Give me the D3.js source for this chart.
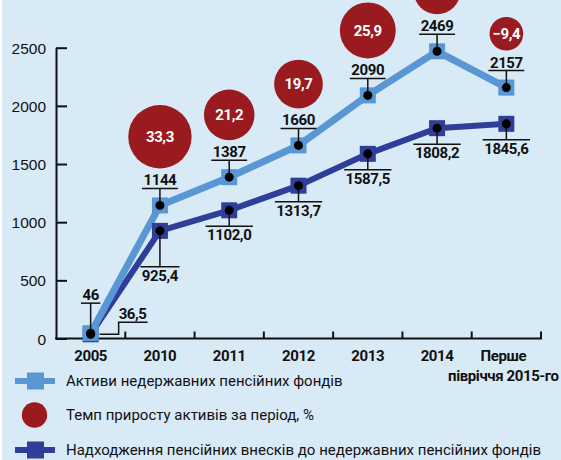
<!DOCTYPE html>
<html>
<head>
<meta charset="utf-8">
<script src="https://cdnjs.cloudflare.com/ajax/libs/d3/7.8.5/d3.min.js"></script>
<style type='text/css'>
body {
  margin: 0;
  background: #fff;
}
svg {
  display: block;
  font-family: Roboto, "Open Sans", sans-serif;
}
.axis text {
  font-size: 15.5px;
  fill: #111;
}
.axis line, .axis path {
  stroke: #111;
  stroke-width: 2;
}
text.year {
  font-size: 15px;
  font-weight: bold;
  fill: #111;
  letter-spacing: -0.4px;
}
text.val {
  font-size: 15px;
  font-weight: bold;
  fill: #111;
  letter-spacing: -0.4px;
}
line.lead, path.lead {
  stroke: #111;
  stroke-width: 1.5;
  fill: none;
}
text.pct {
  font-size: 15px;
  font-weight: bold;
  fill: #fff;
  letter-spacing: -0.4px;
}
text.leg {
  font-size: 15px;
  fill: #111;
}
</style>
</head>
<body>
<div id="chart"></div>
<script type='text/javascript'>
// data
var periods = ["2005", "2010", "2011", "2012", "2013", "2014", "Перше|півріччя 2015-го"];
var assets = [46, 1144, 1387, 1660, 2090, 2469, 2157];
var contributions = [36.5, 925.4, 1102.0, 1313.7, 1587.5, 1808.2, 1845.6];
var growth = [null, 33.3, 21.2, 19.7, 25.9, 18.1, -9.4];
var yTicks = [0, 500, 1000, 1500, 2000, 2500];
var legendLabels = [
  "Активи недержавних пенсійних фондів",
  "Темп приросту активів за період, %",
  "Надходження пенсійних внесків до недержавних пенсійних фондів"
];

var width = 561, height = 460;
var cLight = "#5897d3", cDark = "#2f3e99", cRed = "#9a1b1f", cBg = "#d9eaf7";

var svg = d3.select("#chart").append("svg")
    .attr("width", width)
    .attr("height", height);

svg.append("rect")
    .attr("x", 2).attr("y", 0)
    .attr("width", width - 2).attr("height", height)
    .attr("fill", cBg);

var x = d3.scaleBand().domain(periods).range([56, 541]);
var y = d3.scaleLinear().domain([0, 2500]).range([338.5, 47.7]);
var r = d3.scaleSqrt().domain([0, 33.3]).range([0, 31.7]);
var cx = function(i) { return x(periods[i]) + x.bandwidth() / 2; };
var fmt1 = function(v) { return d3.format(".1f")(v).replace(".", ","); };

// y axis, ticks pointing into the plot
svg.append("g")
    .attr("class", "axis")
    .attr("transform", "translate(56,0)")
    .call(d3.axisLeft(y).tickValues(yTicks).tickFormat(d3.format("d"))
      .tickSizeInner(-11).tickSizeOuter(0).tickPadding(10))
    .call(function(g) { g.selectAll("text").attr("dy", "0.36em"); });

// x axis: baseline plus ticks at the band edges
var xg = svg.append("g").attr("class", "axis");
xg.append("line")
    .attr("x1", 55).attr("x2", x.range()[1] + 1)
    .attr("y1", y(0)).attr("y2", y(0));
xg.selectAll("line.edge")
  .data(periods)
  .enter().append("line")
    .attr("class", "edge")
    .attr("x1", function(d) { return x(d) + x.bandwidth(); })
    .attr("x2", function(d) { return x(d) + x.bandwidth(); })
    .attr("y1", y(0)).attr("y2", y(0) - 7);

var yl = svg.selectAll("text.year")
  .data(periods)
  .enter().append("text")
    .attr("class", "year")
    .attr("text-anchor", "middle")
    .attr("y", 361);
yl.each(function(d, i) {
  var parts = d.split("|");
  var t = d3.select(this);
  parts.forEach(function(p, k) {
    t.append("tspan")
      .attr("x", cx(i) - (parts.length > 1 ? 3 : 0))
      .attr("dy", k == 0 ? 0 : 20)
      .text(p);
  });
});

// lines
var line = d3.line()
    .x(function(d, i) { return cx(i); })
    .y(function(d) { return y(d); });

svg.append("path").datum(contributions)
    .attr("d", line).attr("fill", "none")
    .attr("stroke", cDark).attr("stroke-width", 6);
svg.append("path").datum(assets)
    .attr("d", line).attr("fill", "none")
    .attr("stroke", cLight).attr("stroke-width", 7);

function squares(data, col) {
  svg.selectAll(null).data(data).enter().append("rect")
    .attr("x", function(d, i) { return cx(i) - 8; })
    .attr("y", function(d) { return y(d) - 8; })
    .attr("width", 16).attr("height", 16)
    .attr("fill", col);
}
squares(contributions, cDark);
squares(assets, cLight);

// leader lines and value labels
var assetGap = [30, 17, 17, 17, 17, 17, 17];
var contribGap = [0, 36, 16, 16, 16, 16, 16];

function valueLabel(px, py, ly, txt, above) {
  var t = svg.append("text")
      .attr("class", "val")
      .attr("text-anchor", "middle")
      .attr("x", px)
      .attr("y", above ? ly - 3 : ly + 14)
      .text(txt);
  var w = t.node().getComputedTextLength() + 3;
  svg.append("line").attr("class", "lead")
      .attr("x1", px - w / 2).attr("x2", px + w / 2)
      .attr("y1", ly).attr("y2", ly);
  svg.append("line").attr("class", "lead")
      .attr("x1", px).attr("x2", px)
      .attr("y1", ly).attr("y2", py);
}

assets.forEach(function(d, i) {
  valueLabel(cx(i), y(d), y(d) - assetGap[i], String(d), true);
});
contributions.forEach(function(d, i) {
  if (i == 0) {
    var px = cx(i), py = y(d);
    svg.append("path").attr("class", "lead")
        .attr("d", "M" + (px + 9) + "," + py + "H" + (px + 28) + "V" + (py - 12) + "H" + (px + 57));
    svg.append("text").attr("class", "val")
        .attr("x", px + 28).attr("y", py - 15)
        .text(fmt1(d));
    return;
  }
  valueLabel(cx(i), y(d), y(d) + contribGap[i], fmt1(d), false);
});

// black dots on top
[contributions, assets].forEach(function(data) {
  svg.selectAll(null).data(data).enter().append("circle")
    .attr("cx", function(d, i) { return cx(i); })
    .attr("cy", function(d) { return y(d); })
    .attr("r", 4.5)
    .attr("fill", "#000");
});

// growth bubbles above the asset labels
growth.forEach(function(g, i) {
  if (g == null) return;
  var rr = r(Math.abs(g));
  var cy = y(assets[i]) - 37 - rr;
  svg.append("circle")
      .attr("cx", cx(i)).attr("cy", cy).attr("r", rr)
      .attr("fill", cRed);
  if (cy < 8) return; // bubble runs off the top, its figure is not visible
  svg.append("text").attr("class", "pct")
      .attr("text-anchor", "middle")
      .attr("x", cx(i)).attr("y", cy)
      .attr("dy", "0.36em")
      .text((g < 0 ? "\u2212" : "") + fmt1(Math.abs(g)));
});

// legend
var leg = svg.append("g");
var ly = [381, 415, 450];
[cLight, cDark].forEach(function(col, k) {
  var yy = ly[k * 2];
  leg.append("line")
      .attr("x1", 15).attr("x2", 55)
      .attr("y1", yy).attr("y2", yy)
      .attr("stroke", col).attr("stroke-width", 6);
  leg.append("rect")
      .attr("x", 27).attr("y", yy - 8.5)
      .attr("width", 17).attr("height", 17)
      .attr("fill", col);
});
leg.append("circle")
    .attr("cx", 34.5).attr("cy", ly[1]).attr("r", 12.7)
    .attr("fill", cRed);
leg.selectAll("text")
  .data(legendLabels)
  .enter().append("text")
    .attr("class", "leg")
    .attr("x", 66)
    .attr("y", function(d, i) { return ly[i]; })
    .attr("dy", "0.36em")
    .text(function(d) { return d; });
</script>
</body>
</html>
